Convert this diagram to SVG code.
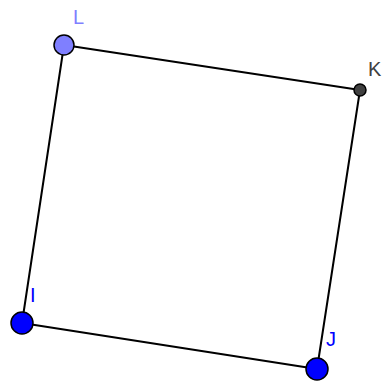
<svg xmlns="http://www.w3.org/2000/svg" width="390" height="388" viewBox="0 0 390 388">
<style>
.seg{stroke:#000;stroke-width:2;fill:none;stroke-linecap:round}
.pt{stroke:#000;stroke-width:1.5}
.lbl{font-family:"Liberation Sans",Arial,sans-serif;font-size:20px}
</style>
<rect width="390" height="388" fill="#fff"/>
<g id="connectors">
<line class="seg" x1="64" y1="45" x2="360" y2="90"/>
<line class="seg" x1="360" y1="90" x2="317" y2="369"/>
<line class="seg" x1="317" y1="369" x2="22" y2="323"/>
<line class="seg" x1="22" y1="323" x2="64" y2="45"/>
</g>
<g id="L"><circle class="pt" cx="64" cy="45" r="10" fill="#7f7fff"/><text class="lbl" x="73" y="24" fill="#7f7fff">L</text></g>
<g id="K"><circle class="pt" cx="360" cy="90" r="6" fill="#404040"/><text class="lbl" x="368" y="76" fill="#404040">K</text></g>
<g id="I"><circle class="pt" cx="22" cy="323" r="11" fill="#0000ff"/><text class="lbl" x="30" y="302" fill="#0000ff">I</text></g>
<g id="J"><circle class="pt" cx="317" cy="369" r="11" fill="#0000ff"/><text class="lbl" x="326" y="346" fill="#0000ff">J</text></g>
</svg>
